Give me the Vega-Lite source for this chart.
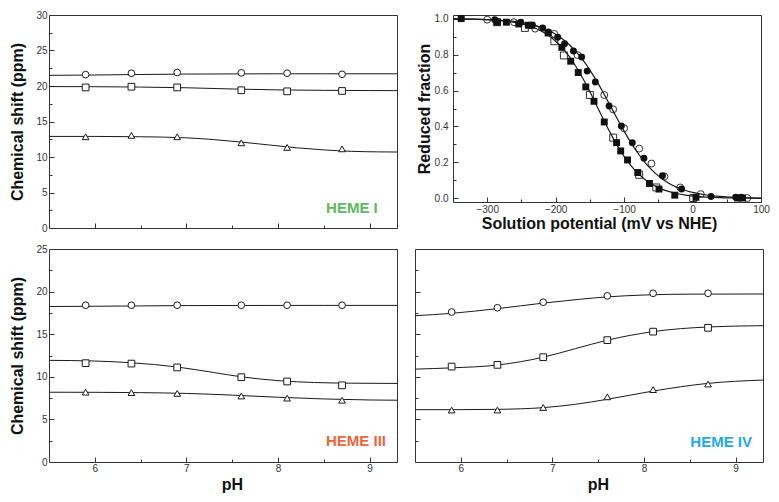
{
  "$schema": "https://vega.github.io/schema/vega-lite/v6.json",
  "padding": {"left": 9, "top": 9, "right": 5, "bottom": 5},
  "background": "white",
  "datasets": {
    "pts": [
      {"heme": "I", "series": "circle", "pH": 5.9, "ppm": 21.6},
      {"heme": "I", "series": "circle", "pH": 6.4, "ppm": 21.8},
      {"heme": "I", "series": "circle", "pH": 6.9, "ppm": 21.9},
      {"heme": "I", "series": "circle", "pH": 7.6, "ppm": 21.85},
      {"heme": "I", "series": "circle", "pH": 8.1, "ppm": 21.8},
      {"heme": "I", "series": "circle", "pH": 8.7, "ppm": 21.65},
      {"heme": "I", "series": "square", "pH": 5.9, "ppm": 19.8},
      {"heme": "I", "series": "square", "pH": 6.4, "ppm": 19.9},
      {"heme": "I", "series": "square", "pH": 6.9, "ppm": 19.8},
      {"heme": "I", "series": "square", "pH": 7.6, "ppm": 19.4},
      {"heme": "I", "series": "square", "pH": 8.1, "ppm": 19.25},
      {"heme": "I", "series": "square", "pH": 8.7, "ppm": 19.3},
      {"heme": "I", "series": "triangle", "pH": 5.9, "ppm": 12.85},
      {"heme": "I", "series": "triangle", "pH": 6.4, "ppm": 13.05},
      {"heme": "I", "series": "triangle", "pH": 6.9, "ppm": 12.85},
      {"heme": "I", "series": "triangle", "pH": 7.6, "ppm": 12.0},
      {"heme": "I", "series": "triangle", "pH": 8.1, "ppm": 11.35},
      {"heme": "I", "series": "triangle", "pH": 8.7, "ppm": 11.15},
      {"heme": "III", "series": "circle", "pH": 5.9, "ppm": 18.4},
      {"heme": "III", "series": "circle", "pH": 6.4, "ppm": 18.4},
      {"heme": "III", "series": "circle", "pH": 6.9, "ppm": 18.4},
      {"heme": "III", "series": "circle", "pH": 7.6, "ppm": 18.4},
      {"heme": "III", "series": "circle", "pH": 8.1, "ppm": 18.4},
      {"heme": "III", "series": "circle", "pH": 8.7, "ppm": 18.4},
      {"heme": "III", "series": "square", "pH": 5.9, "ppm": 11.6},
      {"heme": "III", "series": "square", "pH": 6.4, "ppm": 11.55},
      {"heme": "III", "series": "square", "pH": 6.9, "ppm": 11.1},
      {"heme": "III", "series": "square", "pH": 7.6, "ppm": 9.95},
      {"heme": "III", "series": "square", "pH": 8.1, "ppm": 9.45},
      {"heme": "III", "series": "square", "pH": 8.7, "ppm": 9.0},
      {"heme": "III", "series": "triangle", "pH": 5.9, "ppm": 8.2},
      {"heme": "III", "series": "triangle", "pH": 6.4, "ppm": 8.15},
      {"heme": "III", "series": "triangle", "pH": 6.9, "ppm": 8.05},
      {"heme": "III", "series": "triangle", "pH": 7.6, "ppm": 7.75},
      {"heme": "III", "series": "triangle", "pH": 8.1, "ppm": 7.5},
      {"heme": "III", "series": "triangle", "pH": 8.7, "ppm": 7.25},
      {"heme": "IV", "series": "circle", "pH": 5.9, "ppm": 17.6},
      {"heme": "IV", "series": "circle", "pH": 6.4, "ppm": 18.1},
      {"heme": "IV", "series": "circle", "pH": 6.9, "ppm": 18.75},
      {"heme": "IV", "series": "circle", "pH": 7.6, "ppm": 19.5},
      {"heme": "IV", "series": "circle", "pH": 8.1, "ppm": 19.8},
      {"heme": "IV", "series": "circle", "pH": 8.7, "ppm": 19.8},
      {"heme": "IV", "series": "square", "pH": 5.9, "ppm": 11.2},
      {"heme": "IV", "series": "square", "pH": 6.4, "ppm": 11.4},
      {"heme": "IV", "series": "square", "pH": 6.9, "ppm": 12.3},
      {"heme": "IV", "series": "square", "pH": 7.6, "ppm": 14.3},
      {"heme": "IV", "series": "square", "pH": 8.1, "ppm": 15.3},
      {"heme": "IV", "series": "square", "pH": 8.7, "ppm": 15.75},
      {"heme": "IV", "series": "triangle", "pH": 5.9, "ppm": 6.1},
      {"heme": "IV", "series": "triangle", "pH": 6.4, "ppm": 6.1},
      {"heme": "IV", "series": "triangle", "pH": 6.9, "ppm": 6.4},
      {"heme": "IV", "series": "triangle", "pH": 7.6, "ppm": 7.65},
      {"heme": "IV", "series": "triangle", "pH": 8.1, "ppm": 8.5},
      {"heme": "IV", "series": "triangle", "pH": 8.7, "ppm": 9.15}
    ],
    "fits": [
      {"heme": "I", "series": "circle", "pH": 5.5, "ppm": 21.5},
      {"heme": "I", "series": "circle", "pH": 6.0, "ppm": 21.55},
      {"heme": "I", "series": "circle", "pH": 6.5, "ppm": 21.62},
      {"heme": "I", "series": "circle", "pH": 7.0, "ppm": 21.68},
      {"heme": "I", "series": "circle", "pH": 7.5, "ppm": 21.7},
      {"heme": "I", "series": "circle", "pH": 8.0, "ppm": 21.72},
      {"heme": "I", "series": "circle", "pH": 8.5, "ppm": 21.72},
      {"heme": "I", "series": "circle", "pH": 9.3, "ppm": 21.72},
      {"heme": "I", "series": "square", "pH": 5.5, "ppm": 19.92},
      {"heme": "I", "series": "square", "pH": 6.0, "ppm": 19.9},
      {"heme": "I", "series": "square", "pH": 6.5, "ppm": 19.85},
      {"heme": "I", "series": "square", "pH": 7.0, "ppm": 19.75},
      {"heme": "I", "series": "square", "pH": 7.5, "ppm": 19.58},
      {"heme": "I", "series": "square", "pH": 8.0, "ppm": 19.45},
      {"heme": "I", "series": "square", "pH": 8.5, "ppm": 19.39},
      {"heme": "I", "series": "square", "pH": 9.0, "ppm": 19.36},
      {"heme": "I", "series": "square", "pH": 9.3, "ppm": 19.35},
      {"heme": "I", "series": "triangle", "pH": 5.5, "ppm": 12.9},
      {"heme": "I", "series": "triangle", "pH": 6.0, "ppm": 12.9},
      {"heme": "I", "series": "triangle", "pH": 6.5, "ppm": 12.85},
      {"heme": "I", "series": "triangle", "pH": 7.0, "ppm": 12.7},
      {"heme": "I", "series": "triangle", "pH": 7.3, "ppm": 12.45},
      {"heme": "I", "series": "triangle", "pH": 7.6, "ppm": 12.1},
      {"heme": "I", "series": "triangle", "pH": 7.9, "ppm": 11.7},
      {"heme": "I", "series": "triangle", "pH": 8.2, "ppm": 11.3},
      {"heme": "I", "series": "triangle", "pH": 8.5, "ppm": 11.0},
      {"heme": "I", "series": "triangle", "pH": 8.8, "ppm": 10.8},
      {"heme": "I", "series": "triangle", "pH": 9.1, "ppm": 10.72},
      {"heme": "I", "series": "triangle", "pH": 9.3, "ppm": 10.7},
      {"heme": "III", "series": "circle", "pH": 5.5, "ppm": 18.25},
      {"heme": "III", "series": "circle", "pH": 6.0, "ppm": 18.28},
      {"heme": "III", "series": "circle", "pH": 6.5, "ppm": 18.32},
      {"heme": "III", "series": "circle", "pH": 7.0, "ppm": 18.36},
      {"heme": "III", "series": "circle", "pH": 7.5, "ppm": 18.37},
      {"heme": "III", "series": "circle", "pH": 8.5, "ppm": 18.38},
      {"heme": "III", "series": "circle", "pH": 9.3, "ppm": 18.38},
      {"heme": "III", "series": "square", "pH": 5.5, "ppm": 11.93},
      {"heme": "III", "series": "square", "pH": 6.0, "ppm": 11.85},
      {"heme": "III", "series": "square", "pH": 6.4, "ppm": 11.65},
      {"heme": "III", "series": "square", "pH": 6.9, "ppm": 11.15},
      {"heme": "III", "series": "square", "pH": 7.3, "ppm": 10.5},
      {"heme": "III", "series": "square", "pH": 7.6, "ppm": 10.0},
      {"heme": "III", "series": "square", "pH": 8.0, "ppm": 9.55},
      {"heme": "III", "series": "square", "pH": 8.4, "ppm": 9.33},
      {"heme": "III", "series": "square", "pH": 8.8, "ppm": 9.25},
      {"heme": "III", "series": "square", "pH": 9.3, "ppm": 9.22},
      {"heme": "III", "series": "triangle", "pH": 5.5, "ppm": 8.19},
      {"heme": "III", "series": "triangle", "pH": 6.0, "ppm": 8.18},
      {"heme": "III", "series": "triangle", "pH": 6.5, "ppm": 8.14},
      {"heme": "III", "series": "triangle", "pH": 7.0, "ppm": 8.05},
      {"heme": "III", "series": "triangle", "pH": 7.5, "ppm": 7.85},
      {"heme": "III", "series": "triangle", "pH": 8.0, "ppm": 7.6},
      {"heme": "III", "series": "triangle", "pH": 8.5, "ppm": 7.4},
      {"heme": "III", "series": "triangle", "pH": 9.0, "ppm": 7.28},
      {"heme": "III", "series": "triangle", "pH": 9.3, "ppm": 7.25},
      {"heme": "IV", "series": "circle", "pH": 5.5, "ppm": 17.17},
      {"heme": "IV", "series": "circle", "pH": 5.9, "ppm": 17.45},
      {"heme": "IV", "series": "circle", "pH": 6.4, "ppm": 18.0},
      {"heme": "IV", "series": "circle", "pH": 6.9, "ppm": 18.65},
      {"heme": "IV", "series": "circle", "pH": 7.3, "ppm": 19.1},
      {"heme": "IV", "series": "circle", "pH": 7.6, "ppm": 19.38},
      {"heme": "IV", "series": "circle", "pH": 8.0, "ppm": 19.6},
      {"heme": "IV", "series": "circle", "pH": 8.5, "ppm": 19.7},
      {"heme": "IV", "series": "circle", "pH": 9.3, "ppm": 19.72},
      {"heme": "IV", "series": "square", "pH": 5.5, "ppm": 10.9},
      {"heme": "IV", "series": "square", "pH": 5.9, "ppm": 11.05},
      {"heme": "IV", "series": "square", "pH": 6.4, "ppm": 11.38},
      {"heme": "IV", "series": "square", "pH": 6.9, "ppm": 12.3},
      {"heme": "IV", "series": "square", "pH": 7.25, "ppm": 13.3},
      {"heme": "IV", "series": "square", "pH": 7.6, "ppm": 14.3},
      {"heme": "IV", "series": "square", "pH": 8.1, "ppm": 15.3},
      {"heme": "IV", "series": "square", "pH": 8.7, "ppm": 15.85},
      {"heme": "IV", "series": "square", "pH": 9.3, "ppm": 16.0},
      {"heme": "IV", "series": "triangle", "pH": 5.5, "ppm": 6.14},
      {"heme": "IV", "series": "triangle", "pH": 5.9, "ppm": 6.14},
      {"heme": "IV", "series": "triangle", "pH": 6.4, "ppm": 6.18},
      {"heme": "IV", "series": "triangle", "pH": 6.9, "ppm": 6.38},
      {"heme": "IV", "series": "triangle", "pH": 7.25, "ppm": 6.77},
      {"heme": "IV", "series": "triangle", "pH": 7.6, "ppm": 7.36},
      {"heme": "IV", "series": "triangle", "pH": 8.1, "ppm": 8.33},
      {"heme": "IV", "series": "triangle", "pH": 8.7, "ppm": 9.23},
      {"heme": "IV", "series": "triangle", "pH": 9.3, "ppm": 9.62}
    ],
    "labels": [
      {"heme": "I", "pH": 9.09, "ppm": 2.8, "text": "HEME I"},
      {"heme": "III", "pH": 9.18, "ppm": 2.45, "text": "HEME III"},
      {"heme": "IV", "pH": 9.18, "ppm": 2.35, "text": "HEME IV"}
    ],
    "redox": [
      {"kind": "filled", "series": "square", "E": -338, "frac": 1.0},
      {"kind": "filled", "series": "square", "E": -285, "frac": 0.98},
      {"kind": "filled", "series": "square", "E": -272, "frac": 0.98},
      {"kind": "filled", "series": "square", "E": -254, "frac": 0.97},
      {"kind": "filled", "series": "square", "E": -240, "frac": 0.963},
      {"kind": "filled", "series": "square", "E": -235, "frac": 0.963},
      {"kind": "filled", "series": "square", "E": -211, "frac": 0.92},
      {"kind": "filled", "series": "square", "E": -191, "frac": 0.84},
      {"kind": "filled", "series": "square", "E": -178, "frac": 0.763},
      {"kind": "filled", "series": "square", "E": -167, "frac": 0.70},
      {"kind": "filled", "series": "square", "E": -156, "frac": 0.62},
      {"kind": "filled", "series": "square", "E": -144, "frac": 0.54},
      {"kind": "filled", "series": "square", "E": -129, "frac": 0.425},
      {"kind": "filled", "series": "square", "E": -111, "frac": 0.31},
      {"kind": "filled", "series": "square", "E": -105, "frac": 0.264},
      {"kind": "filled", "series": "square", "E": -95, "frac": 0.214},
      {"kind": "filled", "series": "square", "E": -80, "frac": 0.144},
      {"kind": "filled", "series": "square", "E": -63, "frac": 0.083},
      {"kind": "filled", "series": "square", "E": -49, "frac": 0.052},
      {"kind": "filled", "series": "square", "E": -26, "frac": 0.018},
      {"kind": "filled", "series": "square", "E": 5, "frac": 0.006},
      {"kind": "filled", "series": "square", "E": 66, "frac": 0.002},
      {"kind": "filled", "series": "square", "E": 73, "frac": 0.002},
      {"kind": "filled", "series": "circle", "E": -289, "frac": 0.994},
      {"kind": "filled", "series": "circle", "E": -251, "frac": 0.98},
      {"kind": "filled", "series": "circle", "E": -234, "frac": 0.963},
      {"kind": "filled", "series": "circle", "E": -219, "frac": 0.948},
      {"kind": "filled", "series": "circle", "E": -211, "frac": 0.926},
      {"kind": "filled", "series": "circle", "E": -197, "frac": 0.896},
      {"kind": "filled", "series": "circle", "E": -187, "frac": 0.86},
      {"kind": "filled", "series": "circle", "E": -174, "frac": 0.82},
      {"kind": "filled", "series": "circle", "E": -162, "frac": 0.786},
      {"kind": "filled", "series": "circle", "E": -154, "frac": 0.708},
      {"kind": "filled", "series": "circle", "E": -142, "frac": 0.647},
      {"kind": "filled", "series": "circle", "E": -122, "frac": 0.514},
      {"kind": "filled", "series": "circle", "E": -104, "frac": 0.403},
      {"kind": "filled", "series": "circle", "E": -88, "frac": 0.31},
      {"kind": "filled", "series": "circle", "E": -71, "frac": 0.224},
      {"kind": "filled", "series": "circle", "E": -44, "frac": 0.126},
      {"kind": "filled", "series": "circle", "E": -16, "frac": 0.052},
      {"kind": "filled", "series": "circle", "E": 27, "frac": 0.011},
      {"kind": "filled", "series": "circle", "E": 63, "frac": 0.006},
      {"kind": "filled", "series": "circle", "E": 71, "frac": 0.006},
      {"kind": "open", "series": "circle", "E": -300, "frac": 0.994},
      {"kind": "open", "series": "circle", "E": -261, "frac": 0.98},
      {"kind": "open", "series": "circle", "E": -230, "frac": 0.944},
      {"kind": "open", "series": "circle", "E": -202, "frac": 0.915},
      {"kind": "open", "series": "circle", "E": -168, "frac": 0.797},
      {"kind": "open", "series": "circle", "E": -129, "frac": 0.575},
      {"kind": "open", "series": "circle", "E": -116, "frac": 0.495},
      {"kind": "open", "series": "circle", "E": -100, "frac": 0.39},
      {"kind": "open", "series": "circle", "E": -78, "frac": 0.277},
      {"kind": "open", "series": "circle", "E": -60, "frac": 0.194},
      {"kind": "open", "series": "circle", "E": -41, "frac": 0.122},
      {"kind": "open", "series": "circle", "E": -18, "frac": 0.061},
      {"kind": "open", "series": "circle", "E": 12, "frac": 0.024},
      {"kind": "open", "series": "circle", "E": 80, "frac": 0.002},
      {"kind": "open", "series": "square", "E": -286, "frac": 0.98},
      {"kind": "open", "series": "square", "E": -245, "frac": 0.948},
      {"kind": "open", "series": "square", "E": -202, "frac": 0.874},
      {"kind": "open", "series": "square", "E": -188, "frac": 0.795},
      {"kind": "open", "series": "square", "E": -150, "frac": 0.575},
      {"kind": "open", "series": "square", "E": -116, "frac": 0.338},
      {"kind": "open", "series": "square", "E": -78, "frac": 0.131},
      {"kind": "open", "series": "square", "E": -53, "frac": 0.061},
      {"kind": "open", "series": "square", "E": 1, "frac": 0.002}
    ],
    "redfit": [
      {"curve": "A", "E": -350, "frac": 0.9987},
      {"curve": "A", "E": -320, "frac": 0.9966},
      {"curve": "A", "E": -300, "frac": 0.9937},
      {"curve": "A", "E": -280, "frac": 0.9883},
      {"curve": "A", "E": -260, "frac": 0.9784},
      {"curve": "A", "E": -240, "frac": 0.9604},
      {"curve": "A", "E": -230, "frac": 0.9466},
      {"curve": "A", "E": -220, "frac": 0.9284},
      {"curve": "A", "E": -210, "frac": 0.9047},
      {"curve": "A", "E": -200, "frac": 0.8741},
      {"curve": "A", "E": -190, "frac": 0.8355},
      {"curve": "A", "E": -180, "frac": 0.788},
      {"curve": "A", "E": -170, "frac": 0.7311},
      {"curve": "A", "E": -160, "frac": 0.6654},
      {"curve": "A", "E": -150, "frac": 0.5927},
      {"curve": "A", "E": -140, "frac": 0.5156},
      {"curve": "A", "E": -130, "frac": 0.4378},
      {"curve": "A", "E": -120, "frac": 0.363},
      {"curve": "A", "E": -110, "frac": 0.2942},
      {"curve": "A", "E": -100, "frac": 0.2337},
      {"curve": "A", "E": -90, "frac": 0.1824},
      {"curve": "A", "E": -80, "frac": 0.1403},
      {"curve": "A", "E": -70, "frac": 0.1067},
      {"curve": "A", "E": -60, "frac": 0.0804},
      {"curve": "A", "E": -50, "frac": 0.0601},
      {"curve": "A", "E": -40, "frac": 0.0447},
      {"curve": "A", "E": -30, "frac": 0.0331},
      {"curve": "A", "E": -20, "frac": 0.0244},
      {"curve": "A", "E": -10, "frac": 0.018},
      {"curve": "A", "E": 0, "frac": 0.0132},
      {"curve": "A", "E": 20, "frac": 0.0071},
      {"curve": "A", "E": 40, "frac": 0.0038},
      {"curve": "A", "E": 60, "frac": 0.0021},
      {"curve": "A", "E": 80, "frac": 0.0011},
      {"curve": "A", "E": 100, "frac": 0.0006},
      {"curve": "B", "E": -350, "frac": 0.9987},
      {"curve": "B", "E": -320, "frac": 0.9969},
      {"curve": "B", "E": -300, "frac": 0.9945},
      {"curve": "B", "E": -280, "frac": 0.9903},
      {"curve": "B", "E": -260, "frac": 0.983},
      {"curve": "B", "E": -240, "frac": 0.9703},
      {"curve": "B", "E": -230, "frac": 0.9608},
      {"curve": "B", "E": -220, "frac": 0.9485},
      {"curve": "B", "E": -210, "frac": 0.9327},
      {"curve": "B", "E": -200, "frac": 0.9124},
      {"curve": "B", "E": -190, "frac": 0.8867},
      {"curve": "B", "E": -180, "frac": 0.8546},
      {"curve": "B", "E": -170, "frac": 0.8154},
      {"curve": "B", "E": -160, "frac": 0.7685},
      {"curve": "B", "E": -150, "frac": 0.7138},
      {"curve": "B", "E": -140, "frac": 0.6522},
      {"curve": "B", "E": -130, "frac": 0.5849},
      {"curve": "B", "E": -120, "frac": 0.5143},
      {"curve": "B", "E": -110, "frac": 0.4431},
      {"curve": "B", "E": -100, "frac": 0.3742},
      {"curve": "B", "E": -90, "frac": 0.31},
      {"curve": "B", "E": -80, "frac": 0.2524},
      {"curve": "B", "E": -70, "frac": 0.2024},
      {"curve": "B", "E": -60, "frac": 0.1601},
      {"curve": "B", "E": -50, "frac": 0.1253},
      {"curve": "B", "E": -40, "frac": 0.0972},
      {"curve": "B", "E": -30, "frac": 0.0749},
      {"curve": "B", "E": -20, "frac": 0.0573},
      {"curve": "B", "E": -10, "frac": 0.0437},
      {"curve": "B", "E": 0, "frac": 0.0332},
      {"curve": "B", "E": 20, "frac": 0.019},
      {"curve": "B", "E": 40, "frac": 0.0108},
      {"curve": "B", "E": 60, "frac": 0.0061},
      {"curve": "B", "E": 80, "frac": 0.0035},
      {"curve": "B", "E": 100, "frac": 0.002}
    ]
  },
  "spacing": 9,
  "vconcat": [
    {
      "hconcat": [
        {
          "width": 348,
          "height": 213,
          "layer": [
            {
              "data": {"name": "fits"},
              "transform": [{"filter": "datum.heme == 'I'"}],
              "mark": {"type": "line", "color": "#1a1a1a", "strokeWidth": 1, "interpolate": "monotone"},
              "encoding": {
                "x": {"field": "pH", "type": "quantitative", "scale": {"domain": [5.5, 9.3], "nice": false, "zero": false},
                  "axis": {"values": [6, 6.5, 7, 7.5, 8, 8.5, 9], "tickCount": 60, "labels": false, "title": null,
                    "tickSize": {"condition": {"test": "datum.value % 1 == 0", "value": -5}, "value": -3}}},
                "y": {"field": "ppm", "type": "quantitative", "scale": {"domain": [0, 30], "nice": false, "zero": false},
                  "axis": {"values": [0, 2.5, 5, 7.5, 10, 12.5, 15, 17.5, 20, 22.5, 25, 27.5, 30], "tickCount": 60,
                    "labelExpr": "datum.value % 5 == 0 ? format(datum.value, 'd') : ''",
                    "labelOverlap": false, "labelFlush": false,
                    "tickSize": {"condition": {"test": "datum.value % 5 == 0", "value": -5}, "value": -3},
                    "labelPadding": 7, "titlePadding": 10,
                    "title": "Chemical shift (ppm)"}},
                "detail": {"field": "series"}
              }
            },
            {
              "data": {"name": "pts"},
              "transform": [{"filter": "datum.heme == 'I'"}],
              "mark": {"type": "point", "filled": true, "fill": "white", "stroke": "#1a1a1a", "strokeWidth": 1, "size": 45, "opacity": 1},
              "encoding": {
                "x": {"field": "pH", "type": "quantitative"},
                "y": {"field": "ppm", "type": "quantitative"},
                "shape": {"field": "series", "type": "nominal", "scale": {"domain": ["circle", "square", "triangle"], "range": ["circle", "square", "triangle-up"]}, "legend": null}
              }
            },
            {
              "data": {"name": "labels"},
              "transform": [{"filter": "datum.heme == 'I'"}],
              "mark": {"type": "text", "align": "right", "baseline": "middle", "font": "Liberation Sans", "fontSize": 15, "fontWeight": "bold", "color": "#5DB85E"},
              "encoding": {
                "x": {"field": "pH", "type": "quantitative"},
                "y": {"field": "ppm", "type": "quantitative"},
                "text": {"field": "text"}
              }
            }
          ]
        },
        {
          "width": 308,
          "height": 187,
          "layer": [
            {
              "data": {"name": "redfit"},
              "mark": {"type": "line", "color": "#1a1a1a", "strokeWidth": 1.2, "interpolate": "monotone"},
              "encoding": {
                "x": {"field": "E", "type": "quantitative", "scale": {"domain": [-350, 100], "nice": false, "zero": false},
                  "axis": {"values": [-300, -250, -200, -150, -100, -50, 0, 50, 100], "tickCount": 60,
                    "labelExpr": "datum.value % 100 == 0 ? datum.label : ''",
                    "labelOverlap": false, "labelFlush": false,
                    "tickSize": {"condition": {"test": "datum.value % 100 == 0", "value": -5}, "value": -3},
                    "labelPadding": 7,
                    "title": "Solution potential (mV vs NHE)", "titlePadding": -1, "titleX": 146}},
                "y": {"field": "frac", "type": "quantitative", "scale": {"domain": [-0.02, 1.02], "nice": false, "zero": false},
                  "axis": {"values": [0, 0.1, 0.2, 0.3, 0.4, 0.5, 0.6, 0.7, 0.8, 0.9, 1.0], "tickCount": 60,
                    "labelExpr": "round(datum.value * 10) % 2 == 0 ? format(datum.value, '.1f') : ''",
                    "labelOverlap": false, "labelFlush": false,
                    "tickSize": {"condition": {"test": "round(datum.value * 10) % 2 == 0", "value": -5}, "value": -3},
                    "labelPadding": 10,
                    "title": "Reduced fraction", "titlePadding": 2}},
                "detail": {"field": "curve"}
              }
            },
            {
              "data": {"name": "redox"},
              "transform": [{"filter": "datum.kind == 'open'"}],
              "mark": {"type": "point", "filled": false, "stroke": "#1a1a1a", "strokeWidth": 0.9, "size": 48, "opacity": 1},
              "encoding": {
                "x": {"field": "E", "type": "quantitative"},
                "y": {"field": "frac", "type": "quantitative"},
                "shape": {"field": "series", "type": "nominal", "legend": null}
              }
            },
            {
              "data": {"name": "redox"},
              "transform": [{"filter": "datum.kind == 'filled'"}],
              "mark": {"type": "point", "filled": true, "color": "#111111", "size": 48, "opacity": 1},
              "encoding": {
                "x": {"field": "E", "type": "quantitative"},
                "y": {"field": "frac", "type": "quantitative"},
                "shape": {"field": "series", "type": "nominal", "legend": null}
              }
            }
          ]
        }
      ],
      "spacing": 56,
      "bounds": "flush"
    },
    {
      "hconcat": [
        {
          "width": 348,
          "height": 213,
          "layer": [
            {
              "data": {"name": "fits"},
              "transform": [{"filter": "datum.heme == 'III'"}],
              "mark": {"type": "line", "color": "#1a1a1a", "strokeWidth": 1, "interpolate": "monotone"},
              "encoding": {
                "x": {"field": "pH", "type": "quantitative", "scale": {"domain": [5.5, 9.3], "nice": false, "zero": false},
                  "axis": {"values": [6, 6.5, 7, 7.5, 8, 8.5, 9], "tickCount": 60,
                    "labelExpr": "datum.value % 1 == 0 ? format(datum.value, 'd') : ''",
                    "labelOverlap": false, "labelFlush": false,
                    "tickSize": {"condition": {"test": "datum.value % 1 == 0", "value": -5}, "value": -3},
                    "labelPadding": 6,
                    "title": "pH", "titleX": 183, "titlePadding": 1}},
                "y": {"field": "ppm", "type": "quantitative", "scale": {"domain": [0, 25], "nice": false, "zero": false},
                  "axis": {"values": [0, 2.5, 5, 7.5, 10, 12.5, 15, 17.5, 20, 22.5, 25], "tickCount": 60,
                    "labelExpr": "datum.value % 5 == 0 ? format(datum.value, 'd') : ''",
                    "labelOverlap": false, "labelFlush": false,
                    "tickSize": {"condition": {"test": "datum.value % 5 == 0", "value": -5}, "value": -3},
                    "labelPadding": 7, "titlePadding": 10,
                    "title": "Chemical shift (ppm)"}},
                "detail": {"field": "series"}
              }
            },
            {
              "data": {"name": "pts"},
              "transform": [{"filter": "datum.heme == 'III'"}],
              "mark": {"type": "point", "filled": true, "fill": "white", "stroke": "#1a1a1a", "strokeWidth": 1, "size": 45, "opacity": 1},
              "encoding": {
                "x": {"field": "pH", "type": "quantitative"},
                "y": {"field": "ppm", "type": "quantitative"},
                "shape": {"field": "series", "type": "nominal", "legend": null}
              }
            },
            {
              "data": {"name": "labels"},
              "transform": [{"filter": "datum.heme == 'III'"}],
              "mark": {"type": "text", "align": "right", "baseline": "middle", "font": "Liberation Sans", "fontSize": 15, "fontWeight": "bold", "color": "#EF643B"},
              "encoding": {
                "x": {"field": "pH", "type": "quantitative"},
                "y": {"field": "ppm", "type": "quantitative"},
                "text": {"field": "text"}
              }
            }
          ]
        },
        {
          "width": 348,
          "height": 213,
          "layer": [
            {
              "data": {"name": "fits"},
              "transform": [{"filter": "datum.heme == 'IV'"}],
              "mark": {"type": "line", "color": "#1a1a1a", "strokeWidth": 1, "interpolate": "monotone"},
              "encoding": {
                "x": {"field": "pH", "type": "quantitative", "scale": {"domain": [5.5, 9.3], "nice": false, "zero": false},
                  "axis": {"values": [6, 6.5, 7, 7.5, 8, 8.5, 9], "tickCount": 60,
                    "labelExpr": "datum.value % 1 == 0 ? format(datum.value, 'd') : ''",
                    "labelOverlap": false, "labelFlush": false,
                    "tickSize": {"condition": {"test": "datum.value % 1 == 0", "value": -5}, "value": -3},
                    "labelPadding": 6,
                    "title": "pH", "titleX": 183, "titlePadding": 1}},
                "y": {"field": "ppm", "type": "quantitative", "scale": {"domain": [0, 25], "nice": false, "zero": false},
                  "axis": {"values": [2.5, 5, 7.5, 10, 12.5, 15, 17.5, 20, 22.5], "tickCount": 60,
                    "labels": false,
                    "tickSize": {"condition": {"test": "datum.value % 5 == 0", "value": -5}, "value": -3},
                    "title": null}},
                "detail": {"field": "series"}
              }
            },
            {
              "data": {"name": "pts"},
              "transform": [{"filter": "datum.heme == 'IV'"}],
              "mark": {"type": "point", "filled": true, "fill": "white", "stroke": "#1a1a1a", "strokeWidth": 1, "size": 45, "opacity": 1},
              "encoding": {
                "x": {"field": "pH", "type": "quantitative"},
                "y": {"field": "ppm", "type": "quantitative"},
                "shape": {"field": "series", "type": "nominal", "legend": null}
              }
            },
            {
              "data": {"name": "labels"},
              "transform": [{"filter": "datum.heme == 'IV'"}],
              "mark": {"type": "text", "align": "right", "baseline": "middle", "font": "Liberation Sans", "fontSize": 15, "fontWeight": "bold", "color": "#1EA9EC"},
              "encoding": {
                "x": {"field": "pH", "type": "quantitative"},
                "y": {"field": "ppm", "type": "quantitative"},
                "text": {"field": "text"}
              }
            }
          ]
        }
      ],
      "spacing": 18,
      "bounds": "flush"
    }
  ],
  "config": {
    "font": "Liberation Sans",
    "view": {"stroke": "#333333", "strokeWidth": 1},
    "axis": {
      "domain": false,
      "grid": false,
      "labelOverlap": false,
      "labelFont": "Liberation Sans",
      "labelFontSize": 10,
      "labelColor": "#333333",
      "tickColor": "#333333",
      "tickWidth": 1,
      "titleFont": "Liberation Sans",
      "titleFontSize": 16,
      "titleFontWeight": "bold",
      "titleColor": "#111111",
      "titlePadding": 5
    }
  }
}
